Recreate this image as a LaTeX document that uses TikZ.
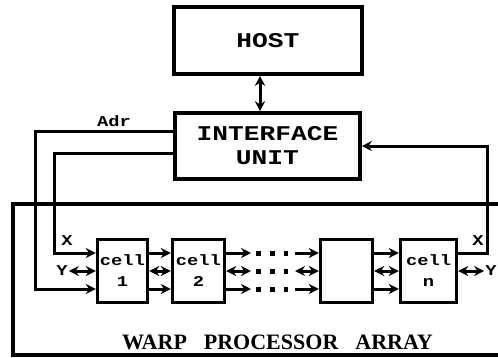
\documentclass[tikz,border=0pt]{standalone}
\usepackage{fontspec}
\setmainfont{Liberation Serif}
\newfontfamily\typew[FakeStretch=1.25]{Liberation Mono}
\usetikzlibrary{arrows.meta}

\begin{document}
\begin{tikzpicture}[x=1pt, y=-1pt,
        unit/.style={draw, line width=3.6pt, align=center, font=\typew\bfseries\fontsize{21}{24}\selectfont},
        cellbox/.style={draw, line width=3.4pt, minimum width=52pt, minimum height=63pt, inner sep=0pt, align=center, font=\typew\bfseries\fontsize{15}{21}\selectfont},
        lbl/.style={inner sep=1pt, font=\typew\bfseries\fontsize{15}{16}\selectfont},
        wire/.style={line width=3pt},
        sig/.style={wire, -{Stealth[length=10pt,width=10pt]}},
        bisig/.style={wire, {Stealth[length=10pt,width=10pt]}-{Stealth[length=10pt,width=10pt]}},
        dots/.style={line width=5pt, dash pattern=on 5pt off 9pt}]
        \useasboundingbox (0,0) rectangle (498,357);
        % host and interface unit
        \node[unit, minimum width=188pt, minimum height=67pt] (host) at (268,40.5) {HOST};
        \node[unit, minimum width=185pt, minimum height=66pt] (iface) at (267.5,146) {INTERFACE\\UNIT};
        \draw[bisig] ([xshift=-8pt]host.south) -- ([xshift=-7.5pt]iface.north);
        % processor array
        \node[draw, line width=3.4pt, minimum width=494pt, minimum height=151pt] (array) at (260,279.5) {};
        \node[font=\bfseries\fontsize{22}{24}\selectfont] (title) at (277.5,342) {WARP\hspace{17pt}PROCESSOR\hspace{17pt}ARRAY};
        \node[cellbox, minimum width=50pt] (c1) at (122.5,271) {cell\\1};
        \node[cellbox] (c2) at (198.5,271) {cell\\2};
        \node[cellbox] (ck) at (346.5,271) {};
        \node[cellbox, minimum width=56pt] (cn) at (428.5,271) {cell\\n};
        \foreach \a/\b in {c1/c2, ck/cn} {
            \draw[sig] ([yshift=18pt]\a.east) -- ([yshift=18pt]\b.west);
            \draw[bisig] (\a.east) -- (\b.west);
            \draw[sig] ([yshift=-18pt]\a.east) -- ([yshift=-18pt]\b.west);
        }
        % the gap between cell 2 and the next cell
        \foreach \s/\y/\st in {18/253/sig, 0/271/bisig, -18/289/sig} {
            \coordinate (o\y) at (251,\y);
            \coordinate (i\y) at (295,\y);
            \draw[\st] ([yshift=\s pt]c2.east) -- (o\y);
            \draw[dots] (256,\y) -- (288,\y);
            \draw[\st] (i\y) -- ([yshift=\s pt]ck.west);
        }
        % wires to and from the interface unit
        \coordinate (adrbend) at (35,289);
        \coordinate (xbend) at (54,253);
        \coordinate (backbend) at (487,146);
        \draw[sig] ([yshift=15pt]iface.west) -| (adrbend) -- ([yshift=-18pt]c1.west);
        \draw[sig] ([yshift=-7pt]iface.west) -| (xbend) -- ([yshift=18pt]c1.west);
        \draw[sig] ([yshift=18pt]cn.east) -| (backbend) -- (iface.east);
        \node[lbl] (adr) at (114,121) {Adr};
        \node[lbl] (xin) at (67,241) {X};
        \node[lbl] (xout) at (478,241) {X};
        \node[lbl] (yin) at (62,271) {Y};
        \node[lbl] (yout) at (491,271) {Y};
        \draw[bisig] (yin.east) -- (c1.west);
        \draw[bisig] (cn.east) -- (yout.west);
    \end{tikzpicture}
\end{document}
